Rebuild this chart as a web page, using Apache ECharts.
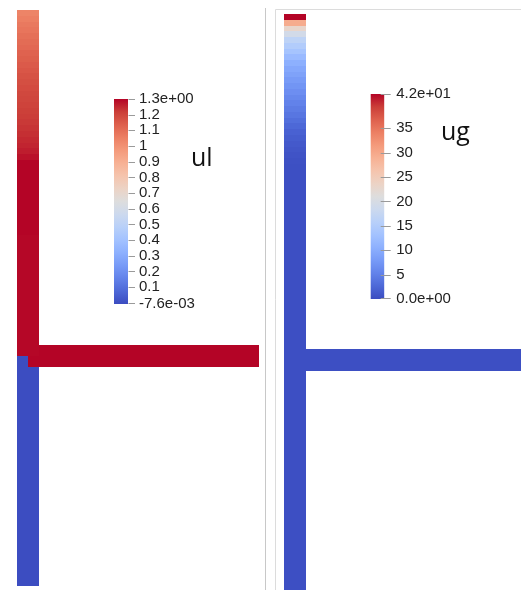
<!DOCTYPE html>
<html>
<head>
<meta charset="utf-8">
<script src="https://cdn.jsdelivr.net/npm/echarts@6/dist/echarts.min.js"></script>
<style>
html, body { margin: 0; padding: 0; background: #fff; }
#main { width: 521px; height: 590px; }
</style>
</head>
<body>
<div id="main"></div>
<script>
// ParaView "Cool to Warm" colour map
var coolWarm = ['#3b4cc0', '#4d68d7', '#6282ea', '#779af7', '#8db0fe', '#a3c2ff', '#b8d0f9', '#ccd9ee',
	'#dddddd', '#ecd3c5', '#f5c4ad', '#f7b194', '#f49a7b', '#ec7f63', '#de604d', '#cb3e38', '#b40426'];

// ul (liquid velocity)
var ulRange = [-0.0076, 1.3];
var ulTicks = [0.1, 0.2, 0.3, 0.4, 0.5, 0.6, 0.7, 0.8, 0.9, 1, 1.1, 1.2];
// upper vertical pipe, cells from top down to the junction
var ulUpper = [1.04, 1.055, 1.07, 1.08, 1.095, 1.105, 1.115, 1.13, 1.14, 1.15, 1.16, 1.17, 1.178,
	1.186, 1.195, 1.2, 1.207, 1.213, 1.22, 1.225, 1.232, 1.24, 1.248, 1.255, 1.265, 1.28,
	1.3, 1.3, 1.3, 1.3, 1.3, 1.3, 1.3, 1.3, 1.3, 1.3, 1.3, 1.3, 1.3,
	1.296, 1.296, 1.296, 1.296, 1.296, 1.296, 1.296, 1.296, 1.296, 1.296, 1.296,
	1.296, 1.296, 1.296, 1.296, 1.296, 1.296, 1.296, 1.296, 1.296, 1.296];
// lower vertical pipe, junction to bottom
var ulLower = [-0.005, -0.005, -0.005, -0.005, -0.005, -0.005, -0.005, -0.005, -0.005, -0.005];
// horizontal branch, from junction outwards
var ulBranch = [1.3, 1.3, 1.3, 1.3, 1.3, 1.3, 1.3, 1.3, 1.3, 1.3];

// ug (gas velocity)
var ugRange = [0, 42];
var ugTicks = [5, 10, 15, 20, 25, 30, 35];
var ugUpper = [42, 29.5, 23, 19.3, 16.5, 15, 13.5, 12, 10.5, 9.6, 8.8, 8.0, 7.3, 6.6, 5.9, 5.3,
	4.6, 4.0, 3.3, 2.6, 2.0, 1.6, 1.25, 0.95, 0.7, 0.5, 0.35,
	0.3, 0.3, 0.3, 0.3, 0.3, 0.3, 0.3, 0.3, 0.3, 0.3, 0.3, 0.3, 0.3, 0.3, 0.3,
	0.3, 0.3, 0.3, 0.3, 0.3, 0.3, 0.3, 0.3, 0.3, 0.3, 0.3, 0.3, 0.3, 0.3, 0.3, 0.3, 0.3, 0.3];
var ugLower = [0.3, 0.3, 0.3, 0.3, 0.3, 0.3, 0.3, 0.3, 0.3, 0.3];
var ugBranch = [0.3, 0.3, 0.3, 0.3, 0.3, 0.3, 0.3, 0.3, 0.3, 0.3];

// geometry of the T pipe, in pipe diameters
var pxPerUnit = 22;
var pipeTop = 26.18;
var junction = 10.47;
var branchBottom = 9.95, branchTop = 10.95, branchEnd = 11;

function vertCells(vals, yTop, yBot) {
	var dy = (yTop - yBot) / vals.length;
	return vals.map(function (v, i) {
		var y1 = yTop - i * dy;
		return [0, y1 - dy, 1, y1, v];
	});
}
function horizCells(vals, xStart) {
	var dx = (branchEnd - xStart) / vals.length;
	return vals.map(function (v, i) {
		var x0 = xStart + i * dx;
		return [x0, branchBottom, x0 + dx, branchTop, v];
	});
}

// snap cell edges to whole pixels so neighbouring cells leave no seams
function cellRect(params, api) {
	var a = api.coord([api.value(0), api.value(3)]);
	var b = api.coord([api.value(2), api.value(1)]);
	var x0 = Math.round(a[0]), y0 = Math.round(a[1]);
	var x1 = Math.round(b[0]), y1 = Math.round(b[1]);
	return {
		type: 'rect',
		shape: { x: x0, y: y0, width: x1 - x0, height: y1 - y0 },
		style: { fill: api.visual('color') }
	};
}

function pipeSeries(axis, data) {
	return {
		type: 'custom',
		xAxisIndex: axis,
		yAxisIndex: axis,
		clip: true,
		silent: true,
		renderItem: cellRect,
		data: data
	};
}

function sci(v) {
	var s = v.toExponential(1).split('e');
	var e = parseInt(s[1], 10);
	return s[0] + 'e' + (e < 0 ? '-' : '+') + (Math.abs(e) < 10 ? '0' : '') + Math.abs(e);
}

// colour bar with its tick marks (tickFrom/tickTo are px right of the bar's right edge)
function barSeries(axis, range, ticks, tickFrom, tickTo) {
	var stops = coolWarm.slice().reverse().map(function (c, i, arr) {
		return { offset: i / (arr.length - 1), color: c };
	});
	var values = [range[0]].concat(ticks, [range[1]]);
	return {
		type: 'custom',
		xAxisIndex: axis,
		yAxisIndex: axis,
		silent: true,
		data: [[0]],
		renderItem: function (params, api) {
			var a = api.coord([0, range[1]]);
			var b = api.coord([1, range[0]]);
			var children = [{
				type: 'rect',
				shape: { x: a[0], y: a[1], width: b[0] - a[0], height: b[1] - a[1] },
				style: { fill: new echarts.graphic.LinearGradient(0, 0, 0, 1, stops) }
			}];
			values.forEach(function (v) {
				var y = Math.round(api.coord([1, v])[1]) + 0.5;
				y = Math.min(Math.max(y, a[1] + 0.5), b[1] - 0.5);
				children.push({
					type: 'line',
					shape: { x1: b[0] + tickFrom, y1: y, x2: b[0] + tickTo, y2: y },
					style: { stroke: '#9a9a9a', lineWidth: 1 }
				});
			});
			return { type: 'group', children: children };
		}
	};
}

function barAxis(axis, range, ticks, margin) {
	var values = [range[0]].concat(ticks, [range[1]]);
	return {
		type: 'value',
		gridIndex: axis,
		min: range[0],
		max: range[1],
		position: 'right',
		axisLine: { show: false },
		splitLine: { show: false },
		axisTick: { show: false },
		axisLabel: {
			customValues: values,
			showMinLabel: true,
			showMaxLabel: true,
			margin: margin,
			color: '#222',
			fontFamily: 'Liberation Sans',
			fontSize: 15,
			formatter: function (v) {
				if (v === range[0] || v === range[1]) return sci(v);
				return String(+v.toFixed(1));
			}
		}
	};
}

var leftW = 248, leftH = 586, rightW = 237.5, rightH = 590;

var chart = echarts.init(document.getElementById('main'));
chart.setOption({
	backgroundColor: '#fff',
	animation: false,
	grid: [
		{ left: 17, top: 0, width: leftW, height: leftH },
		{ left: 283.5, top: 0, width: rightW, height: rightH },
		{ left: 114, top: 99, width: 14, height: 205 },
		{ left: 370.7, top: 94, width: 13.5, height: 205 }
	],
	xAxis: [
		{ type: 'value', gridIndex: 0, min: 0, max: leftW / pxPerUnit, show: false },
		{ type: 'value', gridIndex: 1, min: 0, max: rightW / pxPerUnit, show: false },
		{ type: 'value', gridIndex: 2, min: 0, max: 1, show: false },
		{ type: 'value', gridIndex: 3, min: 0, max: 1, show: false }
	],
	yAxis: [
		{ type: 'value', gridIndex: 0, min: 0, max: leftH / pxPerUnit, show: false },
		{ type: 'value', gridIndex: 1, min: 0, max: rightH / pxPerUnit, show: false },
		barAxis(2, ulRange, ulTicks, 11),
		barAxis(3, ugRange, ugTicks, 12)
	],
	visualMap: [
		{ show: false, type: 'continuous', dimension: 4, seriesIndex: [0, 1, 2],
			min: ulRange[0], max: ulRange[1], inRange: { color: coolWarm } },
		{ show: false, type: 'continuous', dimension: 4, seriesIndex: [3, 4, 5],
			min: ugRange[0], max: ugRange[1], inRange: { color: coolWarm } }
	],
	series: [
		pipeSeries(0, vertCells(ulLower, junction, 0)),
		pipeSeries(0, horizCells(ulBranch, 0.5)),
		pipeSeries(0, vertCells(ulUpper, pipeTop, junction)),
		pipeSeries(1, vertCells(ugLower, junction, 0)),
		pipeSeries(1, horizCells(ugBranch, 1)),
		pipeSeries(1, vertCells(ugUpper, pipeTop, junction)),
		barSeries(2, ulRange, ulTicks, 0.5, 7),
		barSeries(3, ugRange, ugTicks, -3.5, 6.5)
	],
	graphic: [
		{ type: 'line', shape: { x1: 265.5, y1: 8, x2: 265.5, y2: 590 }, style: { stroke: '#c8c8c8', lineWidth: 1 } },
		{ type: 'line', shape: { x1: 275.5, y1: 9.5, x2: 275.5, y2: 590 }, style: { stroke: '#dcdcdc', lineWidth: 1 } },
		{ type: 'line', shape: { x1: 275.5, y1: 9.5, x2: 521, y2: 9.5 }, style: { stroke: '#dcdcdc', lineWidth: 1 } },
		{ type: 'text', left: 191, top: 146, style: { text: 'ul', font: '25px "Open Sans"', fill: '#111' } },
		{ type: 'text', left: 441, top: 120, style: { text: 'ug', font: '25px "Open Sans"', fill: '#111' } }
	]
});
</script>
</body>
</html>
